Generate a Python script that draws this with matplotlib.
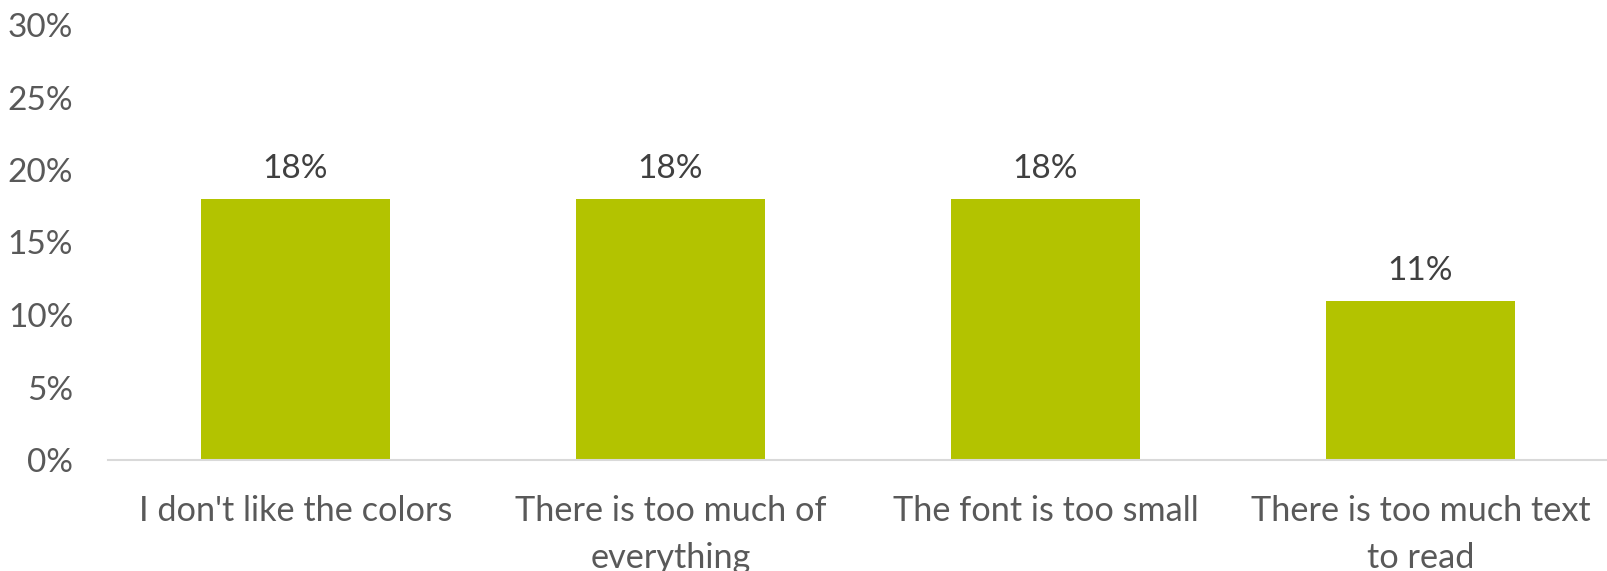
import matplotlib
matplotlib.use("Agg")
from matplotlib import pyplot as plt
from matplotlib.ticker import PercentFormatter

categories = [
    "I don't like the colors",
    "There is too much of\neverything",
    "The font is too small",
    "There is too much text\nto read",
]
shares = [0.18, 0.18, 0.18, 0.11]
y_ticks = [0.0, 0.05, 0.10, 0.15, 0.20, 0.25, 0.30]

plt.rcParams["font.family"] = ["Lato", "DejaVu Sans"]

fig = plt.figure(figsize=(16.08, 5.71), dpi=100)
ax = fig.add_axes([108 / 1608, 111 / 571, 1500 / 1608, 435 / 571])

x = list(range(len(categories)))
bars = ax.bar(x, shares, width=0.505, color="#B3C300")

# value labels above the bars
for rect, v in zip(bars, shares):
    ax.text(
        rect.get_x() + rect.get_width() / 2,
        v + 0.010,
        f"{v:.0%}",
        ha="center",
        va="bottom",
        fontsize=24,
        color="#404040",
    )

ax.set_xlim(-0.5, len(categories) - 0.5)
ax.set_ylim(0, 0.30)
ax.set_yticks(y_ticks)
ax.yaxis.set_major_formatter(PercentFormatter(1.0, decimals=0))
ax.set_xticks(x)
ax.set_xticklabels(categories, linespacing=1.55)

ax.tick_params(axis="y", length=0, pad=25, labelsize=24, labelcolor="#595959")
ax.tick_params(axis="x", length=0, pad=25.5, labelsize=24.7, labelcolor="#595959")

for side in ["top", "right", "left"]:
    ax.spines[side].set_visible(False)
ax.spines["bottom"].set_color("#D9D9D9")
ax.spines["bottom"].set_linewidth(1.5)

fig.savefig("out.png", dpi=100)
plt.close()
